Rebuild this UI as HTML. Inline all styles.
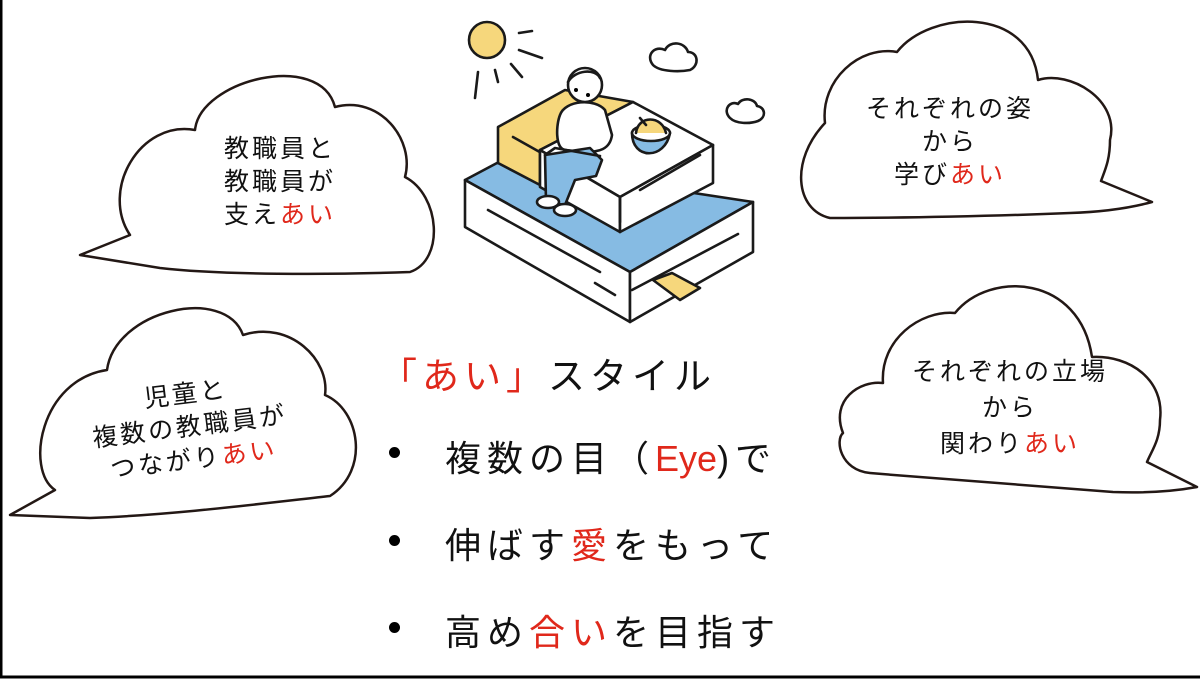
<!DOCTYPE html>
<html><head><meta charset="utf-8"><style>
html,body{margin:0;padding:0;background:#fff}
#c{position:relative;width:1200px;height:679px;overflow:hidden;background:#fff}
.t{position:absolute;font-family:"Liberation Sans","Noto Sans CJK JP",sans-serif;color:#111;white-space:nowrap}
.r{color:#e0281b}
.cl{font-size:25px;line-height:33px;text-align:center;letter-spacing:3px}
.b{font-size:36px;letter-spacing:6px}
.dot{position:absolute;width:11px;height:11px;border-radius:50%;background:#000}
</style></head><body><div id="c">
<svg width="1200" height="679" style="position:absolute;left:0;top:0">
<rect x="1" y="-5" width="1210" height="682" fill="none" stroke="#000" stroke-width="3"/>
<g fill="#fff" stroke="#231815" stroke-width="2.5" stroke-linejoin="round">
<path d="M195,130 C200,80 320,50 335,107 C380,95 415,140 405,177 C440,195 445,260 410,272 C330,275 220,275 160,268 L80,255 L130,235 C100,190 140,120 195,130 Z"/>
<path d="M107,370 C115,310 225,285 243,335 C290,320 330,360 325,395 C360,410 370,470 330,496 C250,505 170,515 90,518 L10,515 L55,490 C25,470 40,380 107,370 Z"/>
<path d="M897,52 C930,10 1030,5 1038,80 C1070,70 1120,100 1110,140 C1110,160 1105,170 1101,181 L1152,202 C1130,208 1100,212 1070,213 C1000,216 900,218 830,218 C795,210 790,160 825,123 C820,80 860,45 897,52 Z"/>
<path d="M955,313 C990,270 1080,275 1092,357 C1130,355 1165,380 1160,420 C1160,440 1152,450 1147,462 L1197,487 C1170,492 1140,493 1113,492 C1030,485 950,480 870,473 C840,470 835,440 843,433 C830,400 860,380 883,383 C880,340 920,310 955,313 Z"/>
</g>
<g stroke="#1a1a1a" stroke-width="2.6" stroke-linejoin="round" stroke-linecap="round">
<circle cx="487" cy="40" r="18" fill="#f6d77c"/>
<line x1="519" y1="33" x2="532" y2="31"/><line x1="519" y1="50" x2="542" y2="58"/><line x1="511" y1="64" x2="522" y2="77"/><line x1="495" y1="70" x2="498" y2="82"/><line x1="478" y1="72" x2="475" y2="98"/>
<path d="M653,65 C645,55 655,45 665,50 C670,40 685,42 688,52 C698,52 700,65 690,70 C680,72 660,72 653,65 Z" fill="#fff"/>
<path d="M730,118 C722,110 730,100 738,104 C742,97 755,98 757,106 C765,107 767,117 758,121 C750,124 736,124 730,118 Z" fill="#fff"/>
<path d="M465,180 L497,163 L753,202 L630,272 Z" fill="#86bbe3"/>
<path d="M465,180 L630,272 L630,322 L465,227 Z" fill="#fff"/>
<path d="M630,272 L753,202 L753,252 L630,322 Z" fill="#fff"/>
<line x1="488" y1="210" x2="600" y2="272"/><line x1="595" y1="283" x2="615" y2="295"/><line x1="632" y1="290" x2="738" y2="234"/>
<path d="M653,280 L672,273 L700,288 L680,300 Z" fill="#f6d77c"/>
<path d="M498,127 L565,90 L633,102 L540,150 L540,185 L498,163 Z" fill="#f6d77c"/>
<line x1="513" y1="137" x2="545" y2="155"/>
<path d="M633,102 L713,145 L620,197 L540,150 Z" fill="#fff"/>
<path d="M540,150 L620,197 L620,232 L540,187 Z" fill="#fff"/>
<path d="M620,197 L713,145 L713,183 L620,232 Z" fill="#fff"/>
<line x1="620" y1="197" x2="620" y2="222"/><line x1="640" y1="190" x2="700" y2="155"/>
<path d="M632,133 C632,160 665,160 670,133 Z" fill="#86bbe3"/>
<ellipse cx="651" cy="133" rx="19" ry="8" fill="#fff"/>
<path d="M636,133 C638,115 662,115 666,133" fill="#f6d77c"/>
<line x1="640" y1="118" x2="646" y2="125"/>
<path d="M560,115 C565,100 595,98 605,110 L612,135 C610,150 598,152 585,152 L565,150 C555,148 556,125 560,115 Z" fill="#fff"/>
<path d="M545,155 L590,148 L602,160 L596,176 L575,180 L565,205 L546,202 Z" fill="#86bbe3"/>
<path d="M545,155 L555,148 L600,156" fill="none"/>
<ellipse cx="548" cy="202" rx="11" ry="6" fill="#fff"/>
<ellipse cx="565" cy="210" rx="11" ry="6" fill="#fff"/>
<circle cx="585" cy="85" r="17" fill="#fff"/>
<path d="M568,82 C575,70 595,68 600,78" fill="none"/>
</g>
<circle cx="576" cy="90" r="2" fill="#000"/><circle cx="588" cy="95" r="2" fill="#000"/>
</svg>

<div class="t cl" style="left:180px;top:133px;width:200px">教職員と<br>教職員が<br>支え<span class="r">あい</span></div>
<div class="t cl" style="left:75px;top:378px;width:230px;transform:rotate(-7deg)">児童と<br>複数の教職員が<br>つながり<span class="r">あい</span></div>
<div class="t cl" style="left:840px;top:93px;width:220px">それぞれの姿<br>から<br>学び<span class="r">あい</span></div>
<div class="t cl" style="left:890px;top:354px;width:240px;line-height:36px">それぞれの立場<br>から<br>関わり<span class="r">あい</span></div>

<div class="t b" style="left:380px;top:346px;font-size:37px;letter-spacing:5px"><span class="r">「あい」</span>スタイル</div>
<div class="dot" style="left:389px;top:447px"></div>
<div class="dot" style="left:389px;top:535px"></div>
<div class="dot" style="left:389px;top:622px"></div>
<div class="t b" style="left:445px;top:430px">複数の目（<span class="r" style="letter-spacing:0">Eye</span>)で</div>
<div class="t b" style="left:445px;top:517px">伸ばす<span class="r">愛</span>をもって</div>
<div class="t b" style="left:445px;top:604px">高め<span class="r">合い</span>を目指す</div>
</div></body></html>
